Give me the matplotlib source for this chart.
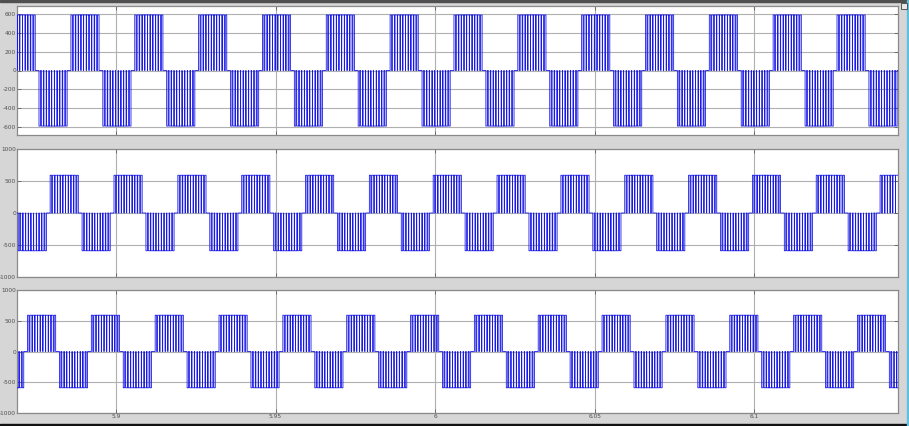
import numpy as np
import matplotlib
matplotlib.use('Agg')
import matplotlib.pyplot as plt
from matplotlib.patches import Rectangle

W, H = 909, 426

# time axis shared by all three scope panels
TIME_LIM = (5.869, 6.145)
X_TICKS = [5.9, 5.95, 6.0, 6.05, 6.1]
X_TICK_LABELS = ['5.9', '5.95', '6', '6.05', '6.1']

# pulse-block level (V) and y ranges per panel
LEVEL = [590, 590, 590]
Y_LIMS = [685, 1000, 1000]
Y_TICKS = [[-600, -400, -200, 0, 200, 400, 600],
           [-1000, -500, 0, 500, 1000],
           [-1000, -500, 0, 500, 1000]]

# centres of the positive / negative pulse blocks (s)
P1_POS = [5.8703, 5.8903, 5.9103, 5.9303, 5.9503, 5.9703, 5.9903, 6.0103, 6.0303, 6.0503, 6.0703, 6.0903, 6.1103, 6.1303]
P1_NEG = [5.8803, 5.9003, 5.9203, 5.9403, 5.9603, 5.9803, 6.0003, 6.0203, 6.0403, 6.0603, 6.0803, 6.1003, 6.1203, 6.1403]
P2_POS = [5.8838, 5.9038, 5.9238, 5.9438, 5.9638, 5.9838, 6.0038, 6.0238, 6.0438, 6.0638, 6.0838, 6.1038, 6.1238, 6.1438]
P2_NEG = [5.8738, 5.8938, 5.9138, 5.9338, 5.9538, 5.9738, 5.9938, 6.0138, 6.0338, 6.0538, 6.0738, 6.0938, 6.1138, 6.1338]
P3_POS = [5.8767, 5.8967, 5.9167, 5.9367, 5.9567, 5.9767, 5.9967, 6.0167, 6.0367, 6.0567, 6.0767, 6.0967, 6.1167, 6.1367]
P3_NEG = [5.8667, 5.8867, 5.9067, 5.9267, 5.9467, 5.9667, 5.9867, 6.0067, 6.0267, 6.0467, 6.0667, 6.0867, 6.1067, 6.1267, 6.1467]

BLOCK_HALF = 0.0046
# duty of each switching slot inside one block (estimated)
SLOT_DUTY = [0.55, 0.75, 0.85, 0.92, 0.95, 0.97, 0.95, 0.92, 0.85, 0.75, 0.55]

PANELS = [(P1_POS, P1_NEG), (P2_POS, P2_NEG), (P3_POS, P3_NEG)]
# axes boxes in pixels: top, bottom
BOXES = [(6, 135), (149, 277), (290, 413)]
LEFT, RIGHT = 17, 898


def pwm_trace(pos, neg, level):
    blocks = sorted([(c, 1) for c in pos] + [(c, -1) for c in neg])
    xs, ys = [TIME_LIM[0] - 0.01], [0.0]
    slot = 2 * BLOCK_HALF / len(SLOT_DUTY)
    for c, s in blocks:
        start = c - BLOCK_HALF
        for i, d in enumerate(SLOT_DUTY):
            t0 = start + i * slot
            t_on = t0 + (1 - d) / 2 * slot
            t_off = t0 + (1 + d) / 2 * slot
            xs += [t_on, t_on, t_off, t_off]
            ys += [0, s * level, s * level, 0]
    xs.append(TIME_LIM[1] + 0.01)
    ys.append(0.0)
    return np.array(xs), np.array(ys)


fig = plt.figure(figsize=(W / 100, H / 100), dpi=100, facecolor='#d6d6d6')

for k, ((pos, neg), (top, bot)) in enumerate(zip(PANELS, BOXES)):
    ax = fig.add_axes([LEFT / W, 1 - bot / H, (RIGHT - LEFT) / W, (bot - top) / H])
    ax.set_facecolor('white')
    x, y = pwm_trace(pos, neg, LEVEL[k])
    ax.plot(x, y, color='#1a1ae6', lw=0.6, zorder=3)
    ax.set_xlim(*TIME_LIM)
    ax.set_ylim(-Y_LIMS[k], Y_LIMS[k])
    ax.set_yticks(Y_TICKS[k])
    ax.set_yticklabels([str(v) for v in Y_TICKS[k]])
    ax.set_xticks(X_TICKS)
    if k == 2:
        ax.set_xticklabels(X_TICK_LABELS)
    else:
        ax.set_xticklabels([])
    ax.grid(True, color='#b0b0b0', lw=0.8)
    ax.tick_params(direction='in', length=3, width=0.6, top=True, right=True,
                   labelsize=4.2, labelcolor='#505050', color='#606060', pad=0.8)
    for sp in ax.spines.values():
        sp.set_color('#8a8a8a')
        sp.set_linewidth(0.9)

# window decorations of the scope screenshot
fig.add_artist(Rectangle((0, 0), 1, 2.5 / H, transform=fig.transFigure, color='#111111'))
fig.add_artist(Rectangle((0, 1 - 1.5 / H), 1, 1.5 / H, transform=fig.transFigure, color='#505050'))
fig.add_artist(Rectangle((907 / W, 0), 2 / W, 1, transform=fig.transFigure, color='#5fc0e0'))
fig.add_artist(Rectangle((901 / W, 1 - 9 / H), 6 / W, 6 / H, transform=fig.transFigure,
                         facecolor='#e8e8e8', edgecolor='#404040', lw=0.6))

fig.savefig('out.png', dpi=100, facecolor=fig.get_facecolor())
